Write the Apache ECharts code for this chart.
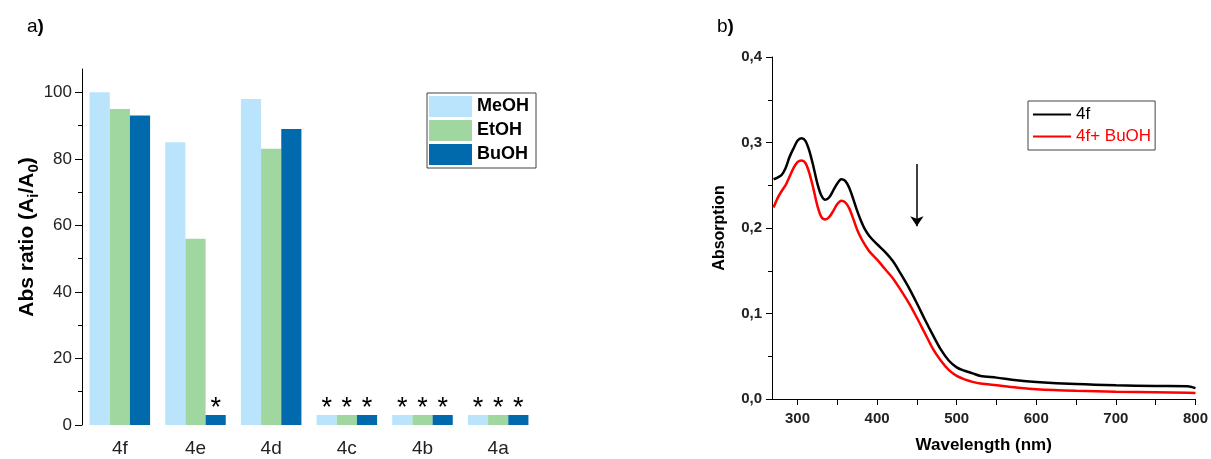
<!DOCTYPE html>
<html>
<head>
<meta charset="utf-8">
<script src="https://cdn.jsdelivr.net/npm/echarts@6/dist/echarts.min.js"></script>
<style>html,body{margin:0;padding:0;background:#fff;}#c{width:1211px;height:459px;}</style>
</head>
<body>
<div id="c"></div>
<script>
// ---- Panel a) data ----
const categories = ['4f', '4e', '4d', '4c', '4b', '4a'];
const meoh = [100, 85, 98, 3, 3, 3];
const etoh = [95, 56, 83, 3, 3, 3];
const buoh = [93, 3, 89, 3, 3, 3];
const starMeOH = [0, 0, 0, 1, 1, 1];
const starEtOH = [0, 0, 0, 1, 1, 1];
const starBuOH = [0, 1, 0, 1, 1, 1];
const yTicksA = [0, 20, 40, 60, 80, 100];
const yMinorA = [10, 30, 50, 70, 90];

// ---- Panel b) data ----
const waveX = [270, 275, 280, 285, 290, 295, 300, 305, 310, 315, 320, 325, 330, 335, 340, 345, 350, 355, 360, 365, 370, 375, 380, 385, 390, 400, 410, 420, 430, 440, 450, 460, 470, 480, 490, 500, 510, 520, 530, 550, 575, 600, 650, 700, 750, 790, 800];
const abs4f = [0.257, 0.259, 0.262, 0.270, 0.283, 0.293, 0.302, 0.305, 0.302, 0.290, 0.272, 0.252, 0.238, 0.233, 0.236, 0.244, 0.252, 0.257, 0.255, 0.247, 0.234, 0.220, 0.208, 0.198, 0.191, 0.181, 0.172, 0.161, 0.146, 0.130, 0.112, 0.093, 0.075, 0.058, 0.045, 0.037, 0.033, 0.030, 0.027, 0.025, 0.022, 0.020, 0.0175, 0.016, 0.0153, 0.015, 0.0127];
const abs4fBuOH = [0.224, 0.235, 0.243, 0.250, 0.260, 0.270, 0.277, 0.279, 0.276, 0.264, 0.246, 0.226, 0.213, 0.210, 0.213, 0.220, 0.228, 0.232, 0.230, 0.223, 0.211, 0.198, 0.188, 0.180, 0.173, 0.163, 0.152, 0.141, 0.127, 0.112, 0.095, 0.077, 0.059, 0.045, 0.034, 0.027, 0.023, 0.020, 0.018, 0.016, 0.0135, 0.0115, 0.0096, 0.0085, 0.0078, 0.0072, 0.0069];
const xTicksB = [300, 400, 500, 600, 700, 800];
const xMinorB = [300, 350, 400, 450, 500, 550, 600, 650, 700, 750, 800];
const arrowX = 450;
const arrowY = [0.275, 0.202];

const FONT = "'Liberation Sans', Arial, sans-serif";
const chart = echarts.init(document.getElementById('c'), null, {renderer: 'canvas'});

function barData(vals, stars) {
  return vals.map((v, i) => ({value: v, label: {show: !!stars[i]}}));
}
const starLabel = {
  show: false, position: 'top', distance: -7, formatter: '*',
  fontSize: 27, color: '#000', fontFamily: FONT
};

const option = {
  backgroundColor: '#fff',
  animation: false,
  textStyle: {fontFamily: FONT},
  graphic: [
    {type: 'text', left: 27, top: 17, style: {text: '{r|a}{b|)}', rich: {r: {fontSize: 19, fontFamily: FONT, fill: '#000'}, b: {fontSize: 19, fontWeight: 'bold', fontFamily: FONT, fill: '#000'}}}},
    {type: 'text', left: 717, top: 17, style: {text: '{r|b}{b|)}', rich: {r: {fontSize: 19, fontFamily: FONT, fill: '#000'}, b: {fontSize: 19, fontWeight: 'bold', fontFamily: FONT, fill: '#000'}}}},
    {type: 'text', x: 27, y: 237, rotation: Math.PI / 2,
     style: {text: '{a|Abs ratio (A}{s|i}{a|/A}{s|0}{a|)}', align: 'center', verticalAlign: 'middle',
       rich: {a: {fontSize: 21, fontWeight: 'bold', fontFamily: FONT, fill: '#000', verticalAlign: 'bottom'},
              s: {fontSize: 15, fontWeight: 'bold', fontFamily: FONT, fill: '#000', verticalAlign: 'bottom', padding: [0, 0, -4, 0]}}}}
  ],
  grid: [
    {left: 82, right: 675, top: 69, bottom: 34},
    {left: 772, right: 15, top: 57, bottom: 56}
  ],
  legend: [
    {
      data: ['MeOH', 'EtOH', 'BuOH'], orient: 'vertical', left: 427, top: 93,
      itemWidth: 43, itemHeight: 21, itemGap: 3, padding: [3, 7, 3, 2],
      borderColor: '#444', borderWidth: 1, icon: 'rect',
      textStyle: {fontSize: 18, fontWeight: 'bold', color: '#000', fontFamily: FONT}
    },
    {
      data: [{name: '4f', textStyle: {color: '#000'}}, {name: '4f+ BuOH', textStyle: {color: '#ff0000'}}],
      orient: 'vertical', left: 1028, top: 101,
      itemWidth: 38, itemHeight: 16, itemGap: 5, padding: [5, 4, 5, 4],
      borderColor: '#444', borderWidth: 1,
      itemStyle: {opacity: 0},
      textStyle: {fontSize: 17, fontFamily: FONT}
    }
  ],
  xAxis: [
    {
      type: 'category', gridIndex: 0, data: categories,
      axisLine: {show: false}, axisTick: {show: false},
      axisLabel: {fontSize: 19, color: '#222', margin: 14, fontFamily: FONT}
    },
    {
      type: 'value', gridIndex: 1, min: 268, max: 800,
      name: 'Wavelength (nm)', nameLocation: 'middle', nameGap: 38,
      nameTextStyle: {fontSize: 17, fontWeight: 'bold', color: '#000', fontFamily: FONT},
      axisLine: {show: true, lineStyle: {color: '#000', width: 1}},
      axisTick: {show: true, inside: false, length: 6, customValues: xMinorB, lineStyle: {color: '#000'}},
      axisLabel: {customValues: xTicksB, fontSize: 15, fontWeight: 'bold', color: '#222', margin: 12, fontFamily: FONT},
      splitLine: {show: false}
    }
  ],
  yAxis: [
    {
      type: 'value', gridIndex: 0, min: 0, max: 107,
      axisLine: {show: true, lineStyle: {color: '#000', width: 1}},
      axisTick: {show: true, length: 7, customValues: yTicksA, lineStyle: {color: '#000'}},
      axisLabel: {customValues: yTicksA, fontSize: 17, color: '#222', margin: 10, fontFamily: FONT},
      splitLine: {show: false}
    },
    {
      type: 'value', gridIndex: 0, min: 0, max: 107, position: 'left',
      axisLine: {show: false},
      axisTick: {show: true, length: 4, customValues: yMinorA, lineStyle: {color: '#000'}},
      axisLabel: {show: false},
      splitLine: {show: false}
    },
    {
      type: 'value', gridIndex: 1, min: 0, max: 0.4, interval: 0.1,
      name: 'Absorption', nameLocation: 'middle', nameGap: 44,
      nameTextStyle: {fontSize: 16, fontWeight: 'bold', color: '#000', fontFamily: FONT},
      axisLine: {show: true, lineStyle: {color: '#000', width: 1}},
      axisTick: {show: true, length: 6, lineStyle: {color: '#000'}},
      minorTick: {show: true, splitNumber: 2, length: 4, lineStyle: {color: '#000'}},
      axisLabel: {fontSize: 15, fontWeight: 'bold', color: '#222', margin: 10, fontFamily: FONT,
                  formatter: v => v.toFixed(1).replace('.', ',')},
      splitLine: {show: false}
    }
  ],
  series: [
    {name: 'MeOH', type: 'bar', xAxisIndex: 0, yAxisIndex: 0, data: barData(meoh, starMeOH),
     itemStyle: {color: '#b9e4fb'}, barGap: 0, barCategoryGap: '20%', label: starLabel},
    {name: 'EtOH', type: 'bar', xAxisIndex: 0, yAxisIndex: 0, data: barData(etoh, starEtOH),
     itemStyle: {color: '#a0d6a0'}, barGap: 0, barCategoryGap: '20%', label: starLabel},
    {name: 'BuOH', type: 'bar', xAxisIndex: 0, yAxisIndex: 0, data: barData(buoh, starBuOH),
     itemStyle: {color: '#006aad'}, barGap: 0, barCategoryGap: '20%', label: starLabel},
    {name: '4f', type: 'line', xAxisIndex: 1, yAxisIndex: 2,
     data: waveX.map((x, i) => [x, abs4f[i]]), symbol: 'none', smooth: 0.3,
     lineStyle: {color: '#000', width: 2.5}, itemStyle: {color: '#000'},
     markLine: {silent: true, symbol: ['none', 'arrow'], symbolSize: 10,
       label: {show: false}, lineStyle: {color: '#000', width: 1.5, type: 'solid'},
       itemStyle: {color: '#000'},
       data: [[{coord: [arrowX, arrowY[0]]}, {coord: [arrowX, arrowY[1]]}]]}},
    {name: '4f+ BuOH', type: 'line', xAxisIndex: 1, yAxisIndex: 2,
     data: waveX.map((x, i) => [x, abs4fBuOH[i]]), symbol: 'none', smooth: 0.3,
     lineStyle: {color: '#ff0000', width: 2.5}, itemStyle: {color: '#ff0000'}}
  ]
};
chart.setOption(option);
</script>
</body>
</html>
